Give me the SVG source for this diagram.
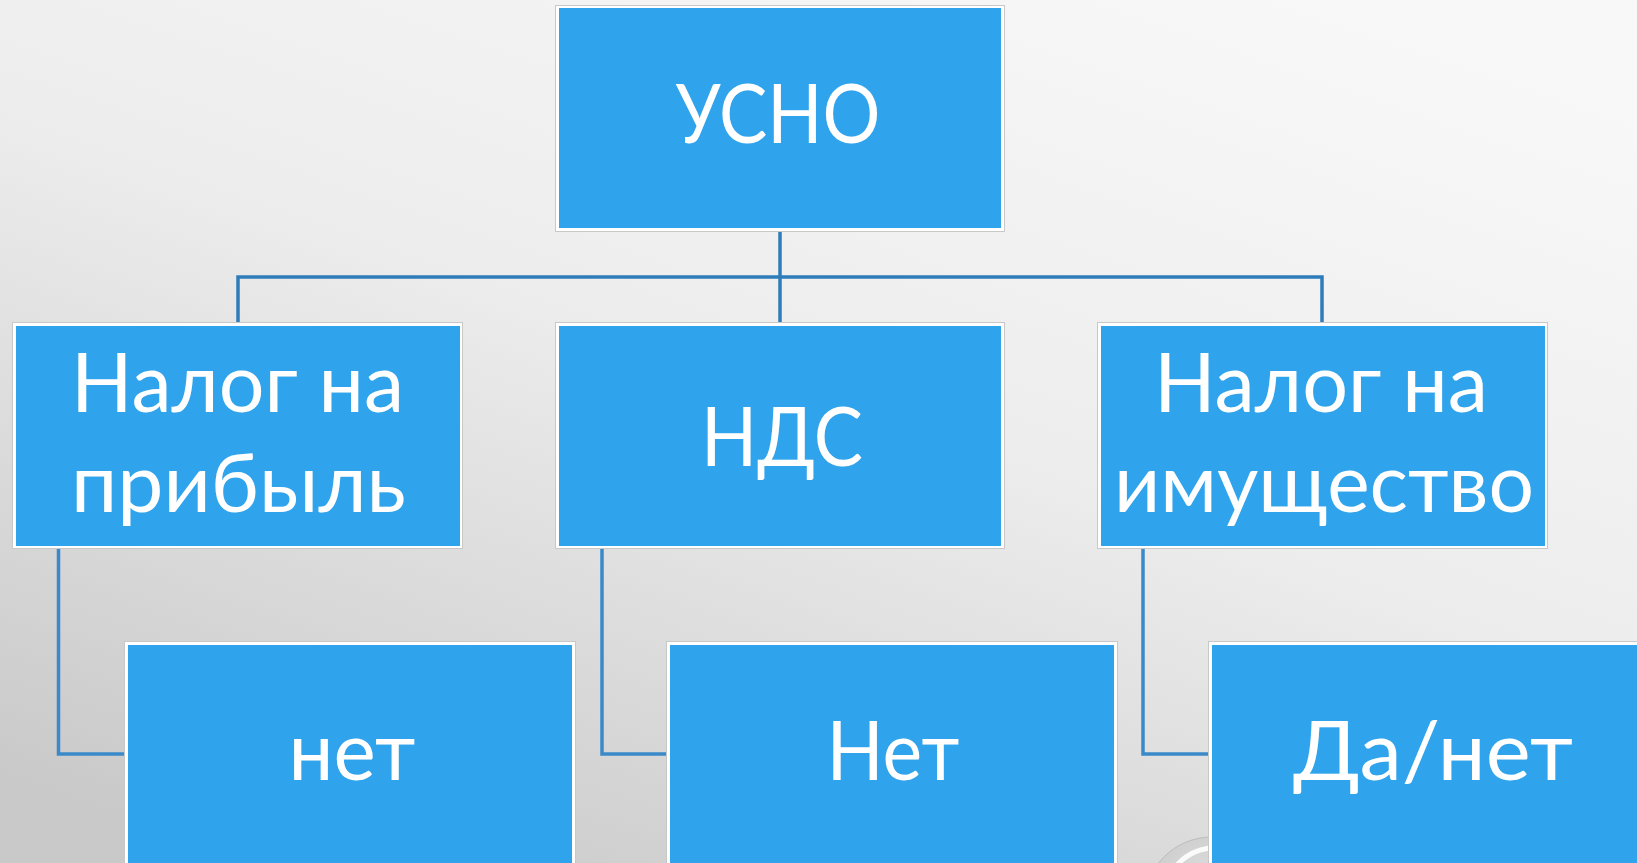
<svg xmlns="http://www.w3.org/2000/svg" width="1637" height="863" viewBox="0 0 1637 863">
<defs>
<linearGradient id="bg" x1="0.8" y1="0" x2="0.15" y2="1">
<stop offset="0" stop-color="#F8F8F8"/>
<stop offset="0.45" stop-color="#EDEDED"/>
<stop offset="1" stop-color="#C9C9C9"/>
</linearGradient>
<radialGradient id="btn" cx="0.5" cy="0.4" r="0.6">
<stop offset="0" stop-color="#E2E2E2"/>
<stop offset="1" stop-color="#C8C8C8"/>
</radialGradient>
<style>
.frame{fill:#FFFFFF;stroke:#C8C8C8;stroke-width:1}
.fill{fill:#2FA3EB}
.lbl{font-family:Lato,"Noto Sans","Open Sans",sans-serif;font-size:81px;fill:#FFFFFF;text-anchor:middle}
.conn{fill:none;stroke:#2E7CB9;stroke-width:3.5;stroke-linejoin:miter}
.conn2{fill:none;stroke:#3A89C9;stroke-width:3.5;stroke-linejoin:miter}
</style>
</defs>
<rect x="0" y="0" width="1637" height="863" fill="url(#bg)"/>
<g id="decor">
<circle cx="1212" cy="905" r="68" fill="url(#btn)" stroke="#BDBDBD" stroke-width="1"/>
<path d="M1168 880 A50 50 0 0 1 1215 848" fill="none" stroke="#FFFFFF" stroke-width="5" opacity="0.9"/>
</g>
<g id="connectors">
<path class="conn" d="M780 232 V322"/>
<path class="conn" d="M238 322 V277 H1322 V322"/>
<path class="conn2" d="M58.5 549 V754 H124"/>
<path class="conn2" d="M602 549 V754 H666"/>
<path class="conn2" d="M1143 549 V754 H1208"/>
</g>
<g id="node-usno">
<rect class="frame" x="555.5" y="5.5" width="449" height="226"/>
<rect class="fill" x="559" y="8" width="442" height="220"/>
<text class="lbl" x="778" y="143" textLength="205" lengthAdjust="spacingAndGlyphs">УСНО</text>
</g>
<g id="node-profit">
<rect class="frame" x="12.5" y="322.5" width="450" height="226"/>
<rect class="fill" x="16" y="326" width="444" height="220"/>
<text class="lbl" x="237.5" y="412" textLength="333" lengthAdjust="spacingAndGlyphs">Налог на</text>
<text class="lbl" x="238.5" y="512" textLength="335" lengthAdjust="spacingAndGlyphs">прибыль</text>
</g>
<g id="node-nds">
<rect class="frame" x="555.5" y="322.5" width="449" height="226"/>
<rect class="fill" x="559" y="326" width="442" height="220"/>
<text class="lbl" x="782" y="466" textLength="162" lengthAdjust="spacingAndGlyphs">НДС</text>
</g>
<g id="node-property">
<rect class="frame" x="1097.5" y="322.5" width="450" height="226"/>
<rect class="fill" x="1101" y="326" width="444" height="220"/>
<text class="lbl" x="1321" y="412" textLength="334" lengthAdjust="spacingAndGlyphs">Налог на</text>
<text class="lbl" x="1324" y="512" textLength="420" lengthAdjust="spacingAndGlyphs">имущество</text>
</g>
<g id="node-profit-ans">
<rect class="frame" x="124.5" y="641.5" width="451" height="230"/>
<rect class="fill" x="128" y="645" width="444" height="230"/>
<text class="lbl" x="352" y="780" textLength="127" lengthAdjust="spacingAndGlyphs">нет</text>
</g>
<g id="node-nds-ans">
<rect class="frame" x="666.5" y="641.5" width="451" height="230"/>
<rect class="fill" x="670" y="645" width="444" height="230"/>
<text class="lbl" x="893" y="780" textLength="133" lengthAdjust="spacingAndGlyphs">Нет</text>
</g>
<g id="node-property-ans">
<rect class="frame" x="1208.5" y="641.5" width="451" height="230"/>
<rect class="fill" x="1212" y="645" width="444" height="230"/>
<text class="lbl" x="1433" y="780" textLength="280" lengthAdjust="spacingAndGlyphs">Да/нет</text>
</g>
</svg>
